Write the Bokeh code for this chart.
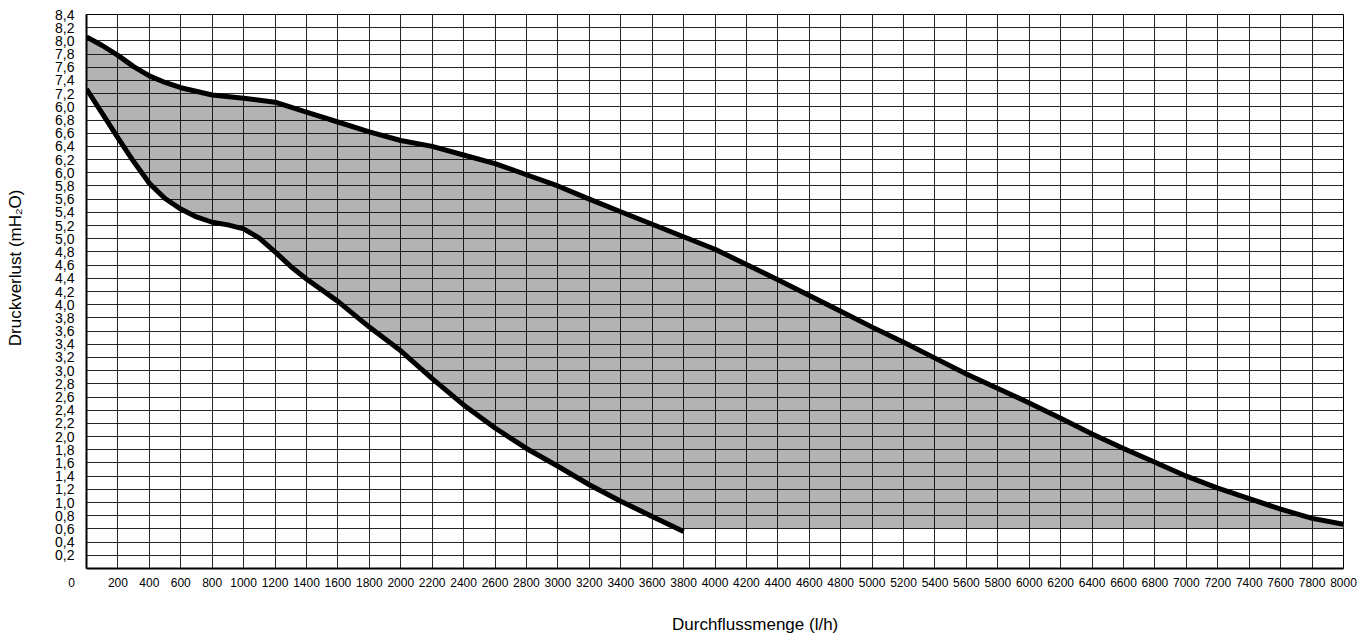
from bokeh.plotting import figure
from bokeh.models import Range1d, FixedTicker, CustomJSTickFormatter
from bokeh.embed import file_html
from bokeh.resources import INLINE

# ---- data ----
x_upper = [0, 100, 200, 300, 400, 500, 600, 800, 1000, 1200, 1400, 1600, 1800, 2000,
           2200, 2400, 2600, 2800, 3000, 3200, 3400, 3600, 3800, 4000, 4200, 4400,
           4600, 4800, 5000, 5200, 5400, 5600, 5800, 6000, 6200, 6400, 6600, 6800,
           7000, 7200, 7400, 7600, 7800, 8000]
y_upper = [8.06, 7.93, 7.78, 7.61, 7.47, 7.37, 7.29, 7.18, 7.13, 7.07, 6.92, 6.77, 6.62, 6.49,
           6.40, 6.27, 6.14, 5.97, 5.80, 5.60, 5.41, 5.22, 5.03, 4.84, 4.61, 4.38,
           4.14, 3.90, 3.66, 3.43, 3.19, 2.95, 2.73, 2.51, 2.28, 2.04, 1.82, 1.61,
           1.40, 1.22, 1.06, 0.90, 0.76, 0.67]

x_lower = [0, 100, 200, 300, 400, 500, 600, 700, 800, 900, 1000, 1100, 1200, 1300, 1400,
           1600, 1800, 2000, 2200, 2400, 2600, 2800, 3000, 3200, 3400, 3600, 3800]
y_lower = [7.27, 6.90, 6.53, 6.17, 5.84, 5.61, 5.45, 5.33, 5.25, 5.21, 5.15, 5.01, 4.80, 4.58, 4.39,
           4.05, 3.66, 3.30, 2.88, 2.48, 2.13, 1.82, 1.55, 1.27, 1.02, 0.79, 0.56]

floor_x = [8000, 3800]
floor_y = [0.6, 0.6]

x_ticks = [0, 200, 400, 600, 800, 1000, 1200, 1400, 1600, 1800, 2000, 2200, 2400, 2600, 2800,
           3000, 3200, 3400, 3600, 3800, 4000, 4200, 4400, 4600, 4800, 5000, 5200, 5400,
           5600, 5800, 6000, 6200, 6400, 6600, 6800, 7000, 7200, 7400, 7600, 7800, 8000]
y_ticks = [0.2, 0.4, 0.6, 0.8, 1.0, 1.2, 1.4, 1.6, 1.8, 2.0, 2.2, 2.4, 2.6, 2.8, 3.0,
           3.2, 3.4, 3.6, 3.8, 4.0, 4.2, 4.4, 4.6, 4.8, 5.0, 5.2, 5.4, 5.6, 5.8, 6.0,
           6.2, 6.4, 6.6, 6.8, 7.0, 7.2, 7.4, 7.6, 7.8, 8.0, 8.2, 8.4]
y_labels = ["0,2", "0,4", "0,6", "0,8", "1,0", "1,2", "1,4", "1,6", "1,8", "2,0", "2,2",
            "2,4", "2,6", "2,8", "3,0", "3,2", "3,4", "3,6", "3,8", "4,0", "4,2", "4,4",
            "4,6", "4,8", "5,0", "5,2", "5,4", "5,6", "5,8", "6,0", "6,2", "6,4", "6,6",
            "6,8", "6,0", "7,2", "7,4", "7,6", "7,8", "8,0", "8,2", "8,4"]

x_title = "Durchflussmenge (l/h)"
y_title = "Druckverlust (mH\u2082O)"

NB = "\u00a0"

p = figure(width=1361, height=638, output_backend="svg", toolbar_location=None,
           x_range=Range1d(0, 8000), y_range=Range1d(0, 8.4),
           min_border_left=86, min_border_right=18, min_border_top=14, min_border_bottom=70)
p.background_fill_color = "white"
p.border_fill_color = "white"
p.outline_line_color = "black"
p.outline_line_width = 1

# fill area (below grid)
poly_x = x_upper + floor_x + x_lower[::-1]
poly_y = y_upper + floor_y + y_lower[::-1]
patch = p.patch(poly_x, poly_y, fill_color="#b3b3b3", line_color=None)
patch.level = "image"

# curves
p.line(x_upper, y_upper, line_color="black", line_width=5, line_join="round")
p.line(x_lower, y_lower, line_color="black", line_width=5, line_join="round")

# x axis
xa = p.xaxis[0]
xa.ticker = FixedTicker(ticks=x_ticks)
xa.major_tick_in = 0
xa.major_tick_out = 0
xa.minor_tick_line_color = None
xa.axis_line_width = 2
xa.axis_line_color = "black"
xa.major_label_standoff = 7
xa.major_label_text_font = "Liberation Sans"
xa.major_label_text_font_size = "12px"
xa.major_label_text_color = "black"
xa.major_label_overrides = {0: "0" + NB * 9}
xa.axis_label = NB * 17 + x_title
xa.axis_label_standoff = 22
xa.axis_label_text_font = "Liberation Sans"
xa.axis_label_text_font_size = "17px"
xa.axis_label_text_font_style = "normal"
xa.axis_label_text_color = "black"

# y axis
ya = p.yaxis[0]
ya.ticker = FixedTicker(ticks=y_ticks)
ya.formatter = CustomJSTickFormatter(args=dict(yvals=y_ticks, ylabs=y_labels), code="""
const i = yvals.findIndex(t => Math.abs(t - tick) < 1e-6);
return i >= 0 ? ylabs[i] : '';
""")
ya.major_tick_in = 0
ya.major_tick_out = 0
ya.minor_tick_line_color = None
ya.axis_line_width = 2
ya.axis_line_color = "black"
ya.major_label_standoff = 12
ya.major_label_text_font = "Liberation Sans"
ya.major_label_text_font_size = "14px"
ya.major_label_text_color = "black"
ya.axis_label = NB * 10 + y_title
ya.axis_label_standoff = 27
ya.axis_label_text_font = "Liberation Sans"
ya.axis_label_text_font_size = "17px"
ya.axis_label_text_font_style = "normal"
ya.axis_label_text_color = "black"

# grid
for g in (p.xgrid[0], p.ygrid[0]):
    g.grid_line_color = "black"
    g.grid_line_width = 1
    g.grid_line_alpha = 0.85
p.ygrid[0].ticker = FixedTicker(ticks=y_ticks)

open("out.html", "w").write(file_html(p, INLINE))
